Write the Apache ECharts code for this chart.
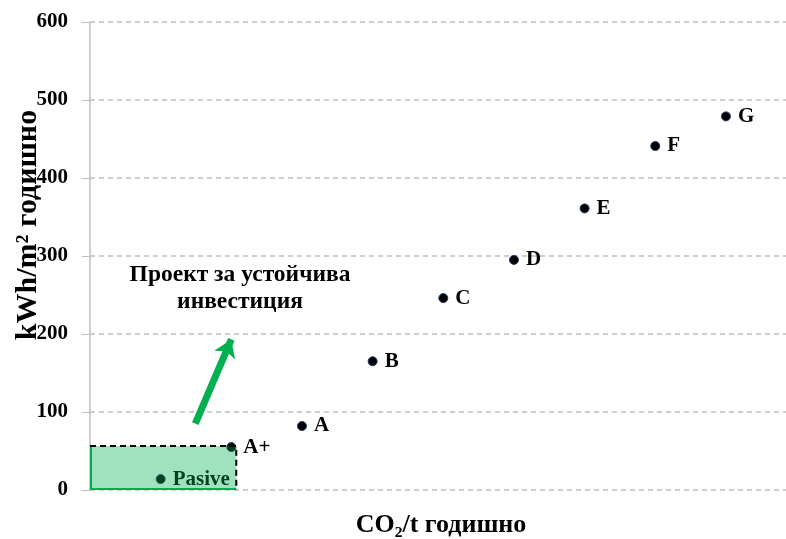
<!DOCTYPE html>
<html>
<head>
<meta charset="utf-8">
<script src="https://cdn.jsdelivr.net/npm/echarts@6/dist/echarts.min.js"></script>
<style>
  html, body { margin: 0; padding: 0; background: #fff; }
  #chart { width: 786px; height: 539px; }
</style>
</head>
<body>
<div id="chart"></div>
<script>
  var classes = ['Pasive', 'A+', 'A', 'B', 'C', 'D', 'E', 'F', 'G'];
  var xValues = [1, 2, 3, 4, 5, 6, 7, 8, 9];
  var energy = [14, 55, 82, 165, 246, 295, 361, 441, 479];
  var yTicks = [0, 100, 200, 300, 400, 500, 600];

  // area of sustainable investment (x0, y0, x1, y1)
  var zone = [0, 0, 2.07, 56.5];
  // arrow from / to
  var arrow = [[1.49, 85], [2.0, 193]];

  var font = '"Liberation Serif", "Times New Roman", serif';
  var green = '#00b050';

  var chart = echarts.init(document.getElementById('chart'));

  var points = classes.map(function (c, i) {
    return { name: c, value: [xValues[i], energy[i]] };
  });

  var option = {
    animation: false,
    grid: {
      top: 22,
      right: 0,
      bottom: 49,
      left: 90,
      outerBoundsMode: 'none'
    },
    xAxis: {
      type: 'value',
      min: 0,
      max: 9.85,
      axisLine: { show: false },
      axisTick: { show: false },
      axisLabel: { show: false },
      splitLine: { show: false }
    },
    yAxis: {
      type: 'value',
      min: yTicks[0],
      max: yTicks[yTicks.length - 1],
      interval: 100,
      axisLine: {
        show: true,
        lineStyle: { color: '#bfbfbf', width: 1.5 }
      },
      axisTick: {
        show: true,
        length: 8,
        lineStyle: { color: '#bfbfbf' }
      },
      axisLabel: {
        margin: 22,
        fontFamily: font,
        fontWeight: 'bold',
        fontSize: 21,
        color: '#000'
      },
      splitLine: {
        show: true,
        lineStyle: { color: '#bfbfbf', type: [5, 4], width: 1.5 }
      }
    },
    series: [
      {
        type: 'scatter',
        data: points,
        symbolSize: 9,
        z: 2,
        itemStyle: {
          color: '#000',
          borderColor: '#1f3864',
          borderWidth: 1,
          opacity: 1
        },
        label: {
          show: true,
          position: 'right',
          distance: 7,
          formatter: '{b}',
          fontFamily: font,
          fontWeight: 'bold',
          fontSize: 21,
          color: '#000'
        }
      },
      {
        type: 'custom',
        z: 5,
        silent: true,
        data: [zone],
        renderItem: function (params, api) {
          var p0 = api.coord([api.value(0), api.value(1)]);
          var p1 = api.coord([api.value(2), api.value(3)]);
          return {
            type: 'group',
            children: [
              {
                type: 'rect',
                shape: { x: p0[0], y: p1[1], width: p1[0] - p0[0], height: p0[1] - p1[1] },
                style: { fill: 'rgba(0,176,80,0.37)' }
              },
              {
                type: 'polyline',
                shape: { points: [[p0[0] + 1, p1[1]], [p0[0] + 1, p0[1] - 1], [p1[0], p0[1] - 1]] },
                style: { stroke: green, lineWidth: 2, fill: null }
              },
              {
                type: 'polyline',
                shape: { points: [[p0[0], p1[1]], [p1[0], p1[1]], [p1[0], p0[1]]] },
                style: { stroke: '#000', lineWidth: 2, lineDash: [6, 4], fill: null }
              }
            ]
          };
        }
      },
      {
        type: 'lines',
        coordinateSystem: 'cartesian2d',
        z: 6,
        silent: true,
        symbol: ['none', 'arrow'],
        symbolSize: [18, 17],
        lineStyle: { color: green, width: 7, opacity: 1 },
        data: [{ coords: arrow }]
      }
    ],
    graphic: [
      {
        type: 'text',
        x: 240,
        y: 261,
        style: {
          text: 'Проект за устойчива\nинвестиция',
          fontFamily: font,
          fontWeight: 'bold',
          fontSize: 23.5,
          lineHeight: 27,
          align: 'center',
          fill: '#000'
        }
      },
      {
        type: 'text',
        x: 441,
        y: 525,
        style: {
          text: 'CO₂/t годишно',
          fontFamily: font,
          fontWeight: 'bold',
          fontSize: 26,
          align: 'center',
          verticalAlign: 'middle',
          fill: '#000'
        }
      },
      {
        type: 'text',
        x: 28,
        y: 225,
        rotation: Math.PI / 2,
        style: {
          text: 'kWh/m² годишно',
          fontFamily: font,
          fontWeight: 'bold',
          fontSize: 30,
          align: 'center',
          verticalAlign: 'middle',
          fill: '#000'
        }
      }
    ]
  };

  chart.setOption(option);
  window.addEventListener('resize', function () {
    chart.resize();
  });
</script>
</body>
</html>
